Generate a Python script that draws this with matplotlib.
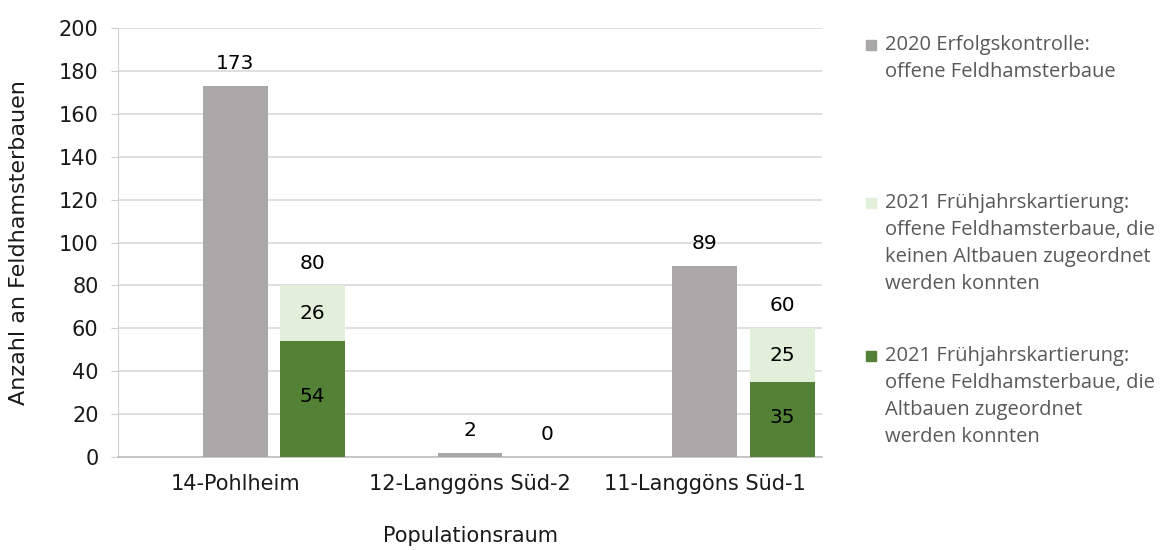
import numpy as np
import matplotlib.pyplot as plt
from matplotlib.patches import Rectangle

# Feldhamsterbaue je Populationsraum
regions = ['14-Pohlheim', '12-Langgöns Süd-2', '11-Langgöns Süd-1']
baue_2020 = [173, 2, 89]
neu_2021 = [26, 0, 25]        # keinen Altbauen zugeordnet
alt_2021 = [54, 0, 35]        # Altbauen zugeordnet

legend_labels = [
    ['2020 Erfolgskontrolle:', 'offene Feldhamsterbaue'],
    ['2021 Frühjahrskartierung:', 'offene Feldhamsterbaue, die',
     'keinen Altbauen zugeordnet', 'werden konnten'],
    ['2021 Frühjahrskartierung:', 'offene Feldhamsterbaue, die',
     'Altbauen zugeordnet', 'werden konnten'],
]

c_grey = '#aaa7a8'
c_light = '#e2efda'
c_dark = '#538135'
colors = [c_grey, c_light, c_dark]

plt.rcParams['font.family'] = ['DejaVu Sans']
txt = '#1a1a1a'

fig = plt.figure(figsize=(11.71, 5.5), dpi=100)
ax = fig.add_axes([0.1008, 0.169, 0.6012, 0.78])

x = np.arange(len(regions))
w = 0.276
off = 0.33
total_2021 = np.array(neu_2021) + np.array(alt_2021)

ax.bar(x, baue_2020, width=w, color=c_grey, zorder=3)
ax.bar(x + off, alt_2021, width=w, color=c_dark, zorder=3)
ax.bar(x + off, neu_2021, width=w, bottom=alt_2021, color=c_light, zorder=3)

lab_fs = 14.5
for i in range(len(regions)):
    ax.text(x[i], baue_2020[i] + 6, str(baue_2020[i]), ha='center', va='bottom',
            fontsize=lab_fs, color='#000000')
    ax.text(x[i] + off, total_2021[i] + 6, str(total_2021[i]), ha='center', va='bottom',
            fontsize=lab_fs, color='#000000')
    if neu_2021[i] > 0:
        ax.text(x[i] + off, alt_2021[i] + neu_2021[i] / 2, str(neu_2021[i]),
                ha='center', va='center', fontsize=lab_fs, color='#000000')
    if alt_2021[i] > 0:
        ax.text(x[i] + off, alt_2021[i] / 2 + 1, str(alt_2021[i]),
                ha='center', va='center', fontsize=lab_fs, color='#000000')

ax.set_xlim(-0.5, 2.5)
ax.set_ylim(0, 200)
ax.set_yticks(np.arange(0, 201, 20))
ax.set_xticks(x)
ax.set_xticklabels(regions)
ax.grid(axis='y', color='#d9d9d9', linewidth=1.2, zorder=0)
for s in ['top', 'right']:
    ax.spines[s].set_visible(False)
ax.spines['left'].set_color('#d0d0d0')
ax.spines['bottom'].set_color('#bfbfbf')
ax.spines['bottom'].set_linewidth(1.2)
ax.tick_params(axis='y', colors='#d0d0d0', labelcolor=txt, labelsize=15,
               length=5, pad=9)
ax.tick_params(axis='x', length=0, labelcolor=txt, labelsize=15, pad=12)
ax.set_ylabel('Anzahl an Feldhamsterbauen', fontsize=16, color=txt)
ax.set_xlabel('Populationsraum', fontsize=15, color=txt)
ax.yaxis.set_label_coords(-0.126, 0.5)
ax.xaxis.set_label_coords(0.5, -0.16)

# Legende rechts, Zeilen einzeln gesetzt (Pixelzeilen von oben)
line_h = 27
first_line = [45, 203, 356]
W, H = 1171, 550
for lines, col, y0 in zip(legend_labels, colors, first_line):
    fig.patches.append(Rectangle((866 / W, 1 - (y0 + 5) / H), 10 / W, 10 / H,
                                 transform=fig.transFigure, color=col))
    for k, line in enumerate(lines):
        fig.text(885 / W, 1 - (y0 + k * line_h) / H, line, fontsize=14.5,
                 color='#595959', family='Open Sans', va='center', ha='left')

fig.savefig('out.png', dpi=100)
